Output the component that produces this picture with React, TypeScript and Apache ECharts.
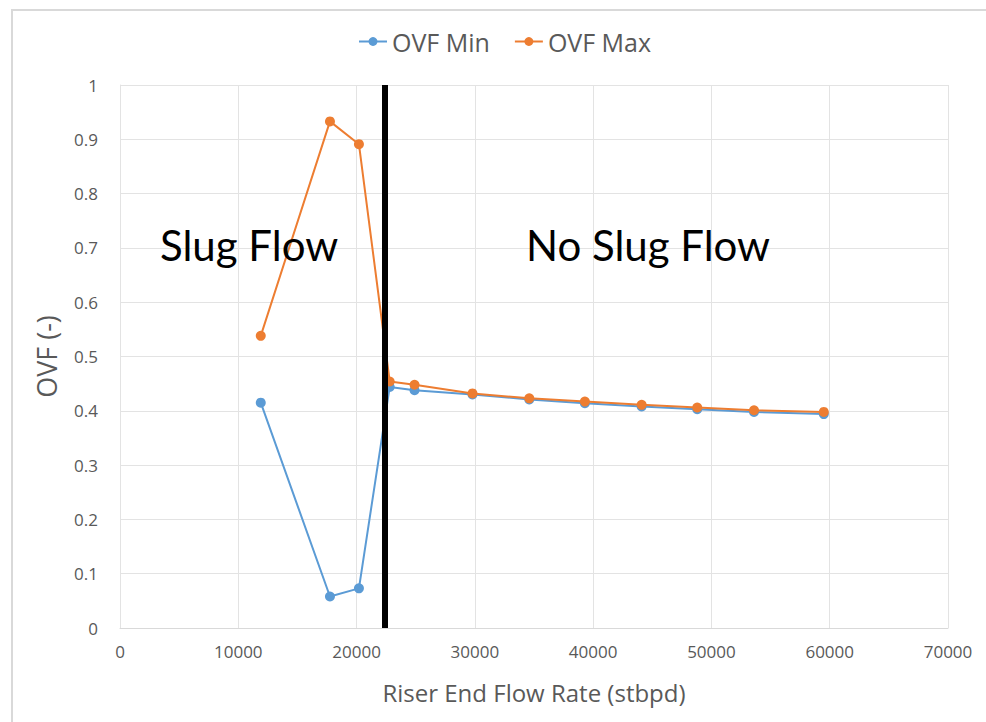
import React, { useEffect, useRef } from "react";
import * as echarts from "echarts";

const flowRate = [11900, 17750, 20200, 22800, 24900, 29800, 34600, 39300, 44100, 48800, 53600, 59500];
const ovfMin = [0.415, 0.058, 0.073, 0.444, 0.438, 0.430, 0.421, 0.414, 0.408, 0.403, 0.398, 0.394];
const ovfMax = [0.538, 0.933, 0.891, 0.454, 0.448, 0.432, 0.423, 0.417, 0.411, 0.406, 0.401, 0.398];
const boundaryX = 22400;
const regionLabels = ["Slug Flow", "No Slug Flow"];
const seriesNames = ["OVF Min", "OVF Max"];

const FONT = "'Open Sans', sans-serif";
const BIG_FONT = "Lato, 'Open Sans', sans-serif";

export default function App() {
  const ref = useRef<HTMLDivElement>(null);
  useEffect(() => {
    if (!ref.current) return;
    const chart = echarts.init(ref.current, null, { renderer: "svg" });
    const pair = (ys: number[]) => flowRate.map((x, i) => [x, ys[i]]);
    chart.setOption({
      animation: false,
      backgroundColor: "#ffffff",
      textStyle: { fontFamily: FONT },
      legend: {
        top: 24,
        left: 353,
        itemWidth: 28,
        itemHeight: 11,
        itemGap: 24,
        textStyle: { fontSize: 25, color: "#595959", fontFamily: FONT },
        data: seriesNames,
      },
      grid: { left: 120, right: 38, top: 85, bottom: 94, containLabel: false },
      xAxis: {
        type: "value",
        min: 0,
        max: 70000,
        interval: 10000,
        name: "Riser End Flow Rate (stbpd)",
        nameLocation: "middle",
        nameGap: 52,
        nameTextStyle: { fontSize: 24, color: "#595959", fontFamily: FONT },
        axisLine: { show: true, lineStyle: { color: "#d9d9d9", width: 1 } },
        axisTick: { show: false },
        axisLabel: {
          fontSize: 17,
          color: "#595959",
          margin: 15,
          fontFamily: FONT,
          formatter: (v: number) => String(v),
        },
        splitLine: { show: true, lineStyle: { color: "#e3e3e3", width: 1 } },
      },
      yAxis: {
        type: "value",
        min: 0,
        max: 1,
        interval: 0.1,
        name: "OVF (-)",
        nameLocation: "middle",
        nameGap: 60,
        nameRotate: 90,
        nameTextStyle: { fontSize: 27, color: "#595959", fontFamily: FONT },
        axisLine: { show: true, lineStyle: { color: "#e3e3e3", width: 1 } },
        axisTick: { show: false },
        axisLabel: { fontSize: 17, color: "#595959", margin: 22, fontFamily: FONT },
        splitLine: { show: true, lineStyle: { color: "#e3e3e3", width: 1 } },
      },
      series: [
        {
          name: seriesNames[0],
          type: "line",
          data: pair(ovfMin),
          symbol: "circle",
          symbolSize: 10,
          itemStyle: { color: "#5b9bd5" },
          lineStyle: { color: "#5b9bd5", width: 2 },
          z: 2,
        },
        {
          name: seriesNames[1],
          type: "line",
          data: pair(ovfMax),
          symbol: "circle",
          symbolSize: 10,
          itemStyle: { color: "#ed7d31" },
          lineStyle: { color: "#ed7d31", width: 2 },
          z: 3,
          markLine: {
            silent: true,
            symbol: ["none", "none"],
            label: { show: false },
            lineStyle: { color: "#000000", width: 6, type: "solid" },
            data: [[{ coord: [boundaryX, 0] }, { coord: [boundaryX, 1] }]],
            z: 5,
          },
        },
      ],
      graphic: [
        {
          type: "rect",
          z: 0,
          shape: { x: 12, y: 10, width: 990, height: 730 },
          style: { fill: "none", stroke: "#d9d9d9", lineWidth: 2 },
          silent: true,
        },
        {
          type: "text",
          z: 100,
          left: 160,
          top: 224,
          style: { text: regionLabels[0], fontSize: 42, fill: "#000000", fontFamily: BIG_FONT },
        },
        {
          type: "text",
          z: 100,
          left: 526,
          top: 224,
          style: { text: regionLabels[1], fontSize: 42, fill: "#000000", fontFamily: BIG_FONT },
        },
      ],
    });
    return () => chart.dispose();
  }, []);
  return (
    <div
      ref={ref}
      style={{ position: "fixed", left: 0, top: 0, width: 986, height: 722 }}
    />
  );
}
